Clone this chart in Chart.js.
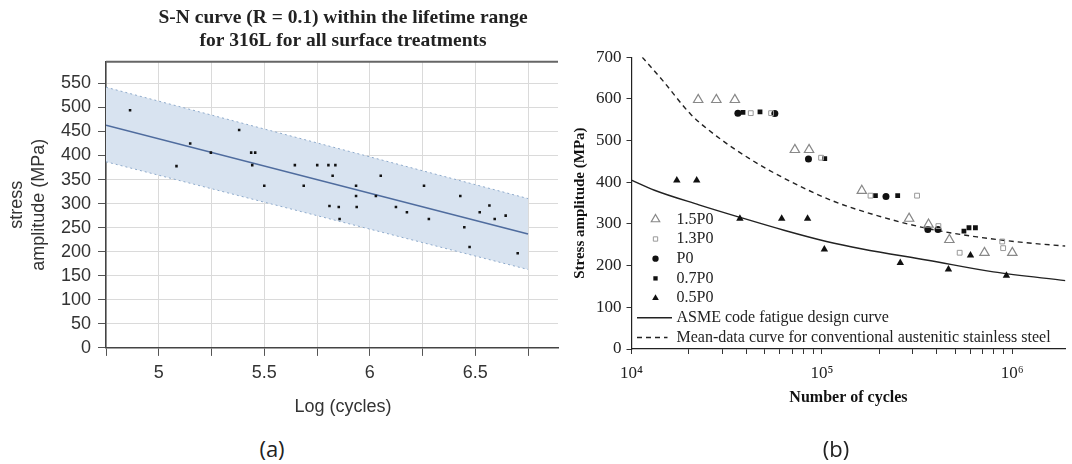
<!DOCTYPE html>
<html>
<head>
<meta charset="utf-8">
<script src="https://cdn.jsdelivr.net/npm/chart.js@4/dist/chart.umd.min.js"></script>
<style>
  body { margin: 0; background: #fff; }
  #wrap { position: relative; width: 1072px; height: 464px; overflow: hidden; }
  canvas { position: absolute; top: 0; }
  #chartA { left: 0; }
  #chartB { left: 540px; }
  .tag { position: absolute; top: 433px; width: 60px; text-align: center;
         font: 22px "Open Sans", sans-serif; line-height: 30px; color: #222; }
</style>
</head>
<body>
<div id="wrap">
  <canvas id="chartA" width="686" height="422"></canvas>
  <canvas id="chartB" width="532" height="464"></canvas>
  <div class="tag" style="left:242px">(a)</div>
  <div class="tag" style="left:806px">(b)</div>
</div>
<script>
// ---- (a) S-N curve, log(cycles) vs stress amplitude ----
const logCycles = [4.864, 5.084, 5.149, 5.247, 5.381, 5.438, 5.457, 5.443, 5.5, 5.645, 5.687,
  5.751, 5.804, 5.837, 5.824, 5.809, 5.853, 5.857, 5.935, 5.935, 5.938, 6.029, 6.052, 6.124,
  6.176, 6.257, 6.28, 6.429, 6.448, 6.473, 6.521, 6.567, 6.592, 6.644, 6.701];
const stressA = [494, 378, 425, 406, 453, 406, 406, 380, 337, 380, 337,
  380, 380, 380, 358, 295, 293, 268, 337, 316, 293, 316, 358, 293,
  282, 337, 268, 316, 251, 210, 282, 296, 268, 275, 197];
const fitX = [4.75, 6.75];
const fitY = [463, 237];
const upperY = [542, 310.5];
const lowerY = [387, 163];
const aTitle = ['S-N curve (R = 0.1) within the lifetime range', 'for 316L for all surface treatments'];

// ---- (b) stress amplitude vs number of cycles ----
const cyc15 = [22400, 27900, 34900, 72100, 85600, 162000, 287000, 363000, 467000, 714000, 1000000];
const str15 = [598, 598, 598, 478, 478, 380, 313, 299, 262, 231, 231];
const cyc13 = [42300, 54100, 99000, 180000, 316000, 409000, 529000, 885000, 895000];
const str13 = [566, 566, 459, 368, 368, 295, 231, 258, 242];
const cycP0 = [36200, 56600, 85000, 217000, 360000, 407000];
const strP0 = [566, 565, 456, 366, 287, 287];
const cyc07 = [38500, 47300, 103500, 191000, 250000, 557000, 592000, 640000];
const str07 = [568, 569, 457, 368, 368, 283, 291, 291];
const cyc05 = [17300, 22000, 37100, 61500, 84100, 103000, 258000, 462000, 603000, 931000];
const str05 = [405, 405, 313, 313, 313, 239, 207, 191, 225, 176];
const asmeCycles = [10000, 13200, 22600, 37100, 63200, 105700, 163000, 360000, 795000, 1900000];
const asmeStress = [405, 381, 346, 316, 285, 258, 240, 213, 185, 164];
const meanCycles = [11400, 14600, 20500, 28700, 42600, 63200, 114600, 199000, 360000, 653000, 1180000, 1900000];
const meanStress = [700, 644, 563, 507, 454, 410, 355, 319, 289, 269, 255, 247];
const powLabels = { 4: '10⁴', 5: '10⁵', 6: '10⁶' };

function pts(xs, ys) {
  return xs.map((x, i) => ({ x: x, y: ys[i] }));
}

// top frame line of plot (a)
const topFrame = {
  id: 'topFrame',
  afterDatasetsDraw(chart) {
    const { ctx, chartArea } = chart;
    ctx.save();
    ctx.strokeStyle = '#666';
    ctx.lineWidth = 2;
    ctx.beginPath();
    ctx.moveTo(chartArea.left, chartArea.top);
    ctx.lineTo(chartArea.right, chartArea.top);
    ctx.stroke();
    ctx.restore();
  }
};

new Chart(document.getElementById('chartA'), {
  data: {
    datasets: [
      { type: 'scatter', label: 'data', data: pts(logCycles, stressA), order: 0,
        pointStyle: 'rect', pointRadius: 1.8, backgroundColor: '#111', borderWidth: 0 },
      { type: 'line', label: 'fit', data: pts(fitX, fitY), order: 1,
        borderColor: '#4f6c9e', borderWidth: 1.6, pointRadius: 0, fill: false },
      { type: 'line', label: 'lower', data: pts(fitX, lowerY), order: 2,
        borderColor: '#8eaacb', borderWidth: 1, borderDash: [2, 3], pointRadius: 0, fill: false },
      { type: 'line', label: 'upper', data: pts(fitX, upperY), order: 3,
        borderColor: '#8eaacb', borderWidth: 1, borderDash: [2, 3], pointRadius: 0,
        fill: '-1', backgroundColor: '#d8e3f0' }
    ]
  },
  options: {
    responsive: false,
    animation: false,
    devicePixelRatio: 1,
    layout: { padding: 0 },
    plugins: {
      legend: { display: false },
      tooltip: { enabled: false },
      title: {
        display: true, text: aTitle, color: '#222',
        font: { family: 'Liberation Serif', size: 19.5, weight: 'bold', lineHeight: 1.16 },
        padding: { top: 6.7, bottom: 9.8 }
      },
      subtitle: {
        display: true, position: 'bottom', text: 'Log (cycles)', color: '#333',
        font: { family: 'Liberation Sans', size: 18 },
        padding: { top: 0, bottom: 4 }
      }
    },
    scales: {
      x: {
        type: 'linear', min: 4.75, max: 6.892,
        border: { color: '#444', width: 1.5 },
        grid: { color: '#dadada', tickColor: '#555', tickLength: 8 },
        ticks: {
          stepSize: 0.25, includeBounds: false, autoSkip: false, padding: 6,
          color: '#333', font: { family: 'Liberation Sans', size: 18 },
          callback: v => (Math.abs(v * 2 - Math.round(v * 2)) < 1e-6 ? String(v) : '')
        },
        afterFit: s => { s.height = 48.5; }
      },
      y: {
        min: 0, max: 595,
        border: { color: '#444', width: 1.5 },
        grid: { color: '#dadada', tickColor: '#555', tickLength: 8 },
        ticks: {
          stepSize: 50, includeBounds: false, padding: 7, color: '#333',
          font: { family: 'Liberation Sans', size: 18 }
        },
        title: {
          display: true, text: ['stress', 'amplitude (MPa)'], color: '#333',
          font: { family: 'Liberation Sans', size: 18, lineHeight: 1.22 },
          padding: { top: 6, bottom: 0 }
        },
        afterFit: s => { s.width = 106; }
      },
      // empty right axis, keeps the title centred like the original
      yPad: {
        position: 'right', display: true,
        grid: { display: false }, border: { display: false }, ticks: { display: false },
        afterFit: s => { s.width = 128; }
      }
    }
  },
  plugins: [topFrame]
});

// legend drawn inside the plot area of (b)
const insideLegend = {
  id: 'insideLegend',
  afterDraw(chart) {
    const { ctx, chartArea } = chart;
    const x0 = chartArea.left;
    let y = chartArea.top + 162;
    ctx.save();
    ctx.textBaseline = 'middle';
    ctx.font = '16px "Liberation Serif"';
    chart.data.datasets.forEach(ds => {
      if (ds.type === 'line') {
        ctx.strokeStyle = ds.borderColor;
        ctx.lineWidth = ds.borderWidth;
        ctx.setLineDash(ds.borderDash || []);
        ctx.beginPath();
        ctx.moveTo(x0 + 5.5, y);
        ctx.lineTo(x0 + (ds.borderDash ? 36 : 40.5), y);
        ctx.stroke();
        ctx.setLineDash([]);
      } else {
        ctx.fillStyle = ds.backgroundColor;
        ctx.strokeStyle = ds.borderColor;
        ctx.lineWidth = ds.borderWidth;
        Chart.helpers.drawPoint(ctx, {
          pointStyle: ds.pointStyle, radius: ds.pointRadius * 0.9,
          rotation: 0, borderWidth: ds.borderWidth
        }, x0 + 24, y);
      }
      ctx.fillStyle = '#222';
      ctx.fillText(ds.label, x0 + 45, y);
      y += 19.7;
    });
    ctx.restore();
  }
};

new Chart(document.getElementById('chartB'), {
  data: {
    datasets: [
      { type: 'scatter', label: '1.5P0', data: pts(cyc15, str15), pointStyle: 'triangle',
        pointRadius: 5.4, backgroundColor: 'rgba(0,0,0,0)', borderColor: '#888', borderWidth: 1.2 },
      { type: 'scatter', label: '1.3P0', data: pts(cyc13, str13), pointStyle: 'rect',
        pointRadius: 3.4, backgroundColor: 'rgba(0,0,0,0)', borderColor: '#999', borderWidth: 1 },
      { type: 'scatter', label: 'P0', data: pts(cycP0, strP0), pointStyle: 'circle',
        pointRadius: 3.5, backgroundColor: '#111', borderColor: '#111', borderWidth: 0 },
      { type: 'scatter', label: '0.7P0', data: pts(cyc07, str07), pointStyle: 'rect',
        pointRadius: 3.4, backgroundColor: '#111', borderColor: '#111', borderWidth: 0 },
      { type: 'scatter', label: '0.5P0', data: pts(cyc05, str05), pointStyle: 'triangle',
        pointRadius: 4.3, backgroundColor: '#111', borderColor: '#111', borderWidth: 0 },
      { type: 'line', label: 'ASME code fatigue design curve', data: pts(asmeCycles, asmeStress),
        borderColor: '#222', borderWidth: 1.4, pointRadius: 0, cubicInterpolationMode: 'monotone' },
      { type: 'line', label: 'Mean-data curve for conventional austenitic stainless steel',
        data: pts(meanCycles, meanStress), borderColor: '#222', borderWidth: 1.4,
        borderDash: [5, 4], pointRadius: 0, cubicInterpolationMode: 'monotone' }
    ]
  },
  options: {
    responsive: false,
    animation: false,
    devicePixelRatio: 1,
    layout: { padding: { top: 57.3, left: 0, right: 0, bottom: 0 } },
    plugins: { legend: { display: false }, tooltip: { enabled: false } },
    scales: {
      x: {
        type: 'logarithmic', min: 10000, max: 1900000,
        border: { color: '#222', width: 1.2 },
        grid: { drawOnChartArea: false, tickColor: '#333', tickLength: 5 },
        afterBuildTicks: s => {
          const t = [];
          for (let e = 4; e <= 6; e++) {
            for (let m = 1; m <= 9; m++) {
              const v = m * Math.pow(10, e);
              if (v <= s.max) t.push({ value: v });
            }
          }
          s.ticks = t;
        },
        ticks: {
          autoSkip: false, maxRotation: 0, padding: 9.4, color: '#222',
          font: { family: 'Liberation Serif', size: 17 },
          callback: v => {
            const p = Math.log10(v);
            return Math.abs(p - Math.round(p)) < 1e-9 ? (powLabels[Math.round(p)] || '') : '';
          }
        },
        title: {
          display: true, text: 'Number of cycles', color: '#111',
          font: { family: 'Liberation Serif', size: 16, weight: 'bold' },
          padding: { top: 0, bottom: 57 }
        },
        afterFit: s => { s.height = 115; }
      },
      y: {
        min: 0, max: 700,
        border: { color: '#222', width: 1.2 },
        grid: { drawOnChartArea: false, tickColor: '#333', tickLength: 5 },
        ticks: {
          stepSize: 50, padding: 5, color: '#222',
          font: { family: 'Liberation Serif', size: 17 },
          callback: v => (v % 100 === 0 ? v : '')
        },
        title: {
          display: true, text: 'Stress amplitude (MPa)', color: '#111',
          font: { family: 'Liberation Serif', size: 15, weight: 'bold' },
          padding: { top: 31, bottom: 0 }
        },
        afterFit: s => { s.width = 91.5; }
      }
    }
  },
  plugins: [insideLegend]
});
</script>
</body>
</html>
